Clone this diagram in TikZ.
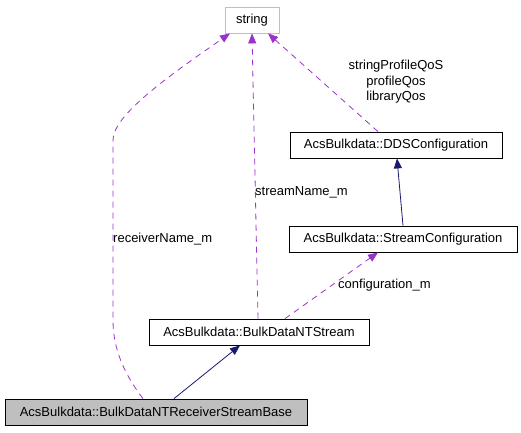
\documentclass[tikz,border=0pt]{standalone}
\usepackage{fontspec}
\setmainfont{Liberation Sans}
\usetikzlibrary{arrows.meta, positioning}

\definecolor{usecol}{HTML}{9A32CD}
\definecolor{inhcol}{HTML}{191970}

\begin{document}
\begin{tikzpicture}[x=1pt, y=-1pt, >={Triangle[length=10pt,width=8pt]},
    cls/.style={rectangle, draw=black, line width=0.8pt, text centered, minimum height=26pt, inner sep=0pt, font=\fontsize{13}{15}\selectfont},
    ext/.style={cls, draw=black!25},
    lbl/.style={inner sep=0pt, font=\fontsize{13}{15.5}\selectfont},
    usage/.style={->, usecol, line width=0.8pt, dash pattern=on 6pt off 5pt},
    inherit/.style={->, inhcol, line width=0.8pt}]

    \useasboundingbox (0,0) rectangle (521,432);

    \node (string) [ext, minimum width=54pt] at (252,20) {string};
    \node (ddsconf) [cls, minimum width=212pt] at (396,145) {AcsBulkdata::DDSConfiguration};
    \node (streamconf) [cls, minimum width=228pt] at (403,239) {AcsBulkdata::StreamConfiguration};
    \node (ntstream) [cls, minimum width=220pt] at (259,332) {AcsBulkdata::BulkDataNTStream};
    \node (recvbase) [cls, fill=black!25, minimum width=302pt] at (156,412) {AcsBulkdata::BulkDataNTReceiverStreamBase};

    % member labels
    \node (lbl_qos) [lbl, align=center] at (396,82) {stringProfileQoS\\profileQos\\libraryQos};
    \node (lbl_recv) [lbl, anchor=west] at (113,239) {receiverName\_m};
    \node (lbl_name) [lbl, anchor=west] at (255,192) {streamName\_m};
    \node (lbl_conf) [lbl, anchor=west] at (338,285) {configuration\_m};

    % usage relations
    \draw[usage] ([xshift=-13pt]recvbase.north) .. controls (125,375) and (113,350) .. (113,320)
        -- (113,140) .. controls (113,115) and (170,75) .. ([xshift=-22pt]string.south);
    \draw[usage] ([xshift=-1pt]ntstream.north) -- (string.south);
    \draw[usage] ([xshift=-18pt]ddsconf.north) -- ([xshift=16pt]string.south);
    \draw[usage] ([xshift=26pt]ntstream.north) -- ([xshift=-25pt]streamconf.south);

    % inheritance
    \draw[inherit] (streamconf.north) -- ([xshift=1pt]ddsconf.south);
    \draw[inherit] ([xshift=18pt]recvbase.north) -- ([xshift=-19pt]ntstream.south);

\end{tikzpicture}
\end{document}
